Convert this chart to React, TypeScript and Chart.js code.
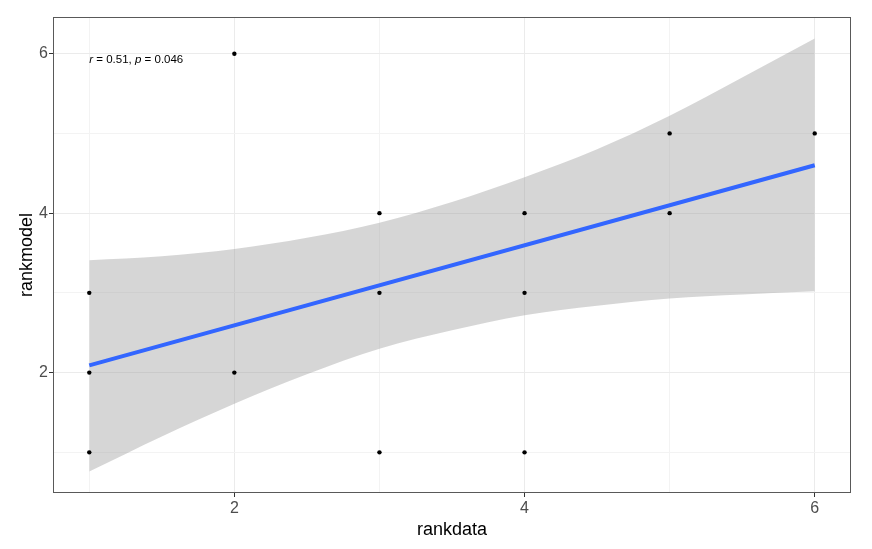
import React, { useEffect, useRef } from "react";
import { Chart, registerables } from "chart.js";

Chart.register(...registerables);

const POINTS_X = [1, 1, 1, 2, 2, 3, 3, 3, 4, 4, 4, 5, 5, 6];
const POINTS_Y = [1, 2, 3, 6, 2, 4, 3, 1, 4, 3, 1, 5, 4, 5];

const FIT_X = [1, 6];
const FIT_Y = [2.09, 4.6];

const BAND_X = [1, 1.5, 2, 2.5, 3, 3.5, 4, 4.5, 5, 5.5, 6];
const BAND_UPPER = [3.41, 3.46, 3.55, 3.69, 3.88, 4.14, 4.45, 4.8, 5.22, 5.7, 6.19];
const BAND_LOWER = [0.76, 1.2, 1.61, 1.98, 2.3, 2.53, 2.72, 2.84, 2.93, 2.98, 3.02];

const TICK_VALUES = [1, 2, 3, 4, 5, 6];
const TICK_LABELS = ["", "2", "", "4", "", "6"];

const X_TITLE = "rankdata";
const Y_TITLE = "rankmodel";

const ANNOT_POS = [1, 5.92];
const ANNOT_R = "0.51";
const ANNOT_P = "0.046";

const FONT = "'Liberation Sans', Arial, sans-serif";

const pts = (xs: number[], ys: number[]) => xs.map((x, i) => ({ x, y: ys[i] }));

const isMajor = (v: number) => TICK_LABELS[TICK_VALUES.indexOf(v)] !== "";

const borderPlugin = {
  id: "panelBorder",
  afterDraw(chart: any) {
    const { ctx, chartArea } = chart;
    const { left, top, right, bottom } = chartArea;
    ctx.save();
    ctx.strokeStyle = "#595959";
    ctx.lineWidth = 1;
    ctx.strokeRect(Math.round(left) + 0.5, Math.round(top) + 0.5, Math.round(right - left) - 1, Math.round(bottom - top) - 1);
    ctx.restore();
  },
};

const annotPlugin = {
  id: "annot",
  afterDatasetsDraw(chart: any) {
    const { ctx, scales } = chart;
    const x0 = scales.x.getPixelForValue(ANNOT_POS[0]);
    const y0 = scales.y.getPixelForValue(ANNOT_POS[1]);
    const parts: [string, boolean][] = [
      ["r", true],
      [" = " + ANNOT_R + ", ", false],
      ["p", true],
      [" = " + ANNOT_P, false],
    ];
    ctx.save();
    ctx.fillStyle = "#000000";
    ctx.textBaseline = "middle";
    ctx.textAlign = "left";
    let x = x0;
    for (const [t, it] of parts) {
      ctx.font = `${it ? "italic " : ""}11.5px ${FONT}`;
      ctx.fillText(t, x, y0);
      x += ctx.measureText(t).width;
    }
    ctx.restore();
  },
};

function gridOpts() {
  return {
    color: (c: any) => (c.tick && isMajor(c.tick.value) ? "#EBEBEB" : "#F3F3F3"),
    lineWidth: 1,
    tickColor: (c: any) => (c.tick && isMajor(c.tick.value) ? "#333333" : "rgba(0,0,0,0)"),
    tickLength: 4,
    drawTicks: true,
    drawOnChartArea: true,
  };
}

export default function App() {
  const ref = useRef<HTMLCanvasElement | null>(null);

  useEffect(() => {
    if (!ref.current) return;
    const chart = new Chart(ref.current, {
      type: "line",
      data: {
        datasets: [
          {
            data: pts(POINTS_X, POINTS_Y),
            showLine: false,
            pointRadius: 2.2,
            pointBackgroundColor: "#000000",
            pointBorderWidth: 0,
            borderColor: "#000000",
          },
          {
            data: pts(FIT_X, FIT_Y),
            borderColor: "#3366FF",
            borderWidth: 4,
            pointRadius: 0,
            fill: false,
          },
          {
            data: pts(BAND_X, BAND_UPPER),
            borderWidth: 0,
            borderColor: "rgba(0,0,0,0)",
            pointRadius: 0,
            cubicInterpolationMode: "monotone",
            fill: "+1",
            backgroundColor: "rgba(153,153,153,0.4)",
          },
          {
            data: pts(BAND_X, BAND_LOWER),
            borderWidth: 0,
            borderColor: "rgba(0,0,0,0)",
            pointRadius: 0,
            cubicInterpolationMode: "monotone",
            fill: false,
          },
        ],
      } as any,
      options: {
        animation: false,
        responsive: false,
        devicePixelRatio: 1,
        layout: { padding: { left: 0, top: 17, right: 21, bottom: 0 } },
        plugins: { legend: { display: false }, tooltip: { enabled: false } },
        events: [],
        scales: {
          x: {
            type: "linear",
            min: 0.75,
            max: 6.25,
            afterBuildTicks: (s: any) => {
              s.ticks = TICK_VALUES.map((v) => ({ value: v }));
            },
            afterFit: (s: any) => {
              s.height = 56;
            },
            ticks: {
              callback: (v: any) => TICK_LABELS[TICK_VALUES.indexOf(Number(v))] ?? "",
              color: "#4D4D4D",
              font: { family: FONT, size: 16 },
              padding: 2,
              maxRotation: 0,
              autoSkip: false,
            },
            grid: gridOpts(),
            border: { display: false },
            title: {
              display: true,
              text: X_TITLE,
              color: "#000000",
              font: { family: FONT, size: 18 },
              padding: { top: 0, bottom: 8 },
            },
          },
          y: {
            type: "linear",
            min: 0.49,
            max: 6.46,
            afterBuildTicks: (s: any) => {
              s.ticks = TICK_VALUES.map((v) => ({ value: v }));
            },
            afterFit: (s: any) => {
              s.width = 53;
            },
            ticks: {
              callback: (v: any) => TICK_LABELS[TICK_VALUES.indexOf(Number(v))] ?? "",
              color: "#4D4D4D",
              font: { family: FONT, size: 16 },
              padding: 1,
              autoSkip: false,
            },
            grid: gridOpts(),
            border: { display: false },
            title: {
              display: true,
              text: Y_TITLE,
              color: "#000000",
              font: { family: FONT, size: 18 },
              padding: { top: 16, bottom: 0 },
            },
          },
        },
      } as any,
      plugins: [borderPlugin, annotPlugin],
    });
    return () => chart.destroy();
  }, []);

  return (
    <div style={{ position: "fixed", left: 0, top: 0, width: 872, height: 549, background: "#ffffff" }}>
      <canvas ref={ref} width={872} height={549} style={{ width: 872, height: 549 }} />
    </div>
  );
}
